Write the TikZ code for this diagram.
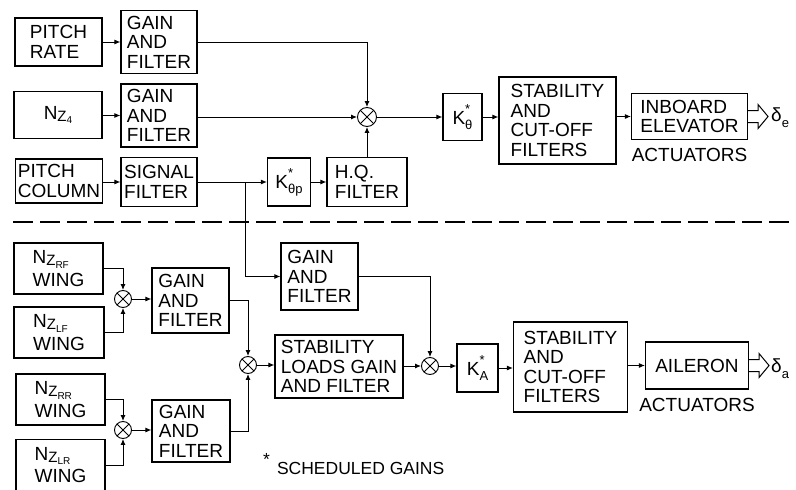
\documentclass[tikz,border=0pt]{standalone}
\usepackage{fontspec}
\setmainfont{Liberation Sans}
\usetikzlibrary{arrows.meta,positioning}

\newcommand{\nzlabel}[1]{N\raisebox{-0.2ex}{\fontsize{15}{15}\selectfont Z\raisebox{-0.3ex}{\fontsize{10}{10}\selectfont #1}}}
\newcommand{\kgain}[1]{K\rlap{\raisebox{1.1ex}{\fontsize{13}{13}\selectfont *}}\raisebox{-0.5ex}{\fontsize{13}{13}\selectfont #1}}
\newcommand{\outarrow}[1]{\draw[line width=1pt] (#1.east) ++(0,-6) -- ++(10,0) -- ++(0,-6) -- ++(10,12) -- ++(-10,12) -- ++(0,-6) -- ++(-10,0);}

\tikzset{
    blk/.style={draw, line width=1.1pt, inner sep=2pt, align=left, font=\fontsize{19}{19.5}\selectfont},
    sumj/.style={draw, circle, line width=0.9pt, minimum size=17pt, inner sep=0pt,
        path picture={\draw[line width=0.9pt] (path picture bounding box.north west) -- (path picture bounding box.south east)
            (path picture bounding box.north east) -- (path picture bounding box.south west);}},
    sig/.style={line width=1pt, -{Latex[length=6pt,width=5pt]}},
    lbl/.style={font=\fontsize{19}{19.5}\selectfont, inner sep=0pt},
}

\begin{document}
\begin{tikzpicture}[x=1pt, y=-1pt]
    \useasboundingbox (0,0) rectangle (796,490);

    \node[blk, minimum width=87, minimum height=48] (prate) at (58.5,42) {PITCH\\RATE};
    \node[blk, minimum width=76, minimum height=63] (gf1) at (159,42) {GAIN\\AND\\FILTER};
    \node[blk, minimum width=88, minimum height=47] (nz4) at (58,115) {\nzlabel{4}};
    \node[blk, minimum width=76, minimum height=63] (gf2) at (159,115.5) {GAIN\\AND\\FILTER};
    \node[blk, minimum width=86, minimum height=44] (pcol) at (59,181) {PITCH\\COLUMN};
    \node[blk, minimum width=76, minimum height=49] (sfilt) at (159,182) {SIGNAL\\FILTER};
    \node[sumj, minimum size=19pt] (sum1) at (367,117) {};
    \node[blk, minimum width=43, minimum height=48] (kthp) at (289,182) {\kgain{θp}};
    \node[blk, minimum width=80, minimum height=49] (hq) at (367,182) {H.Q.\\FILTER};
    \node[blk, minimum width=39, minimum height=47] (kth) at (462.5,117) {\kgain{θ}};
    \node[blk, minimum width=117, minimum height=87] (stab1) at (557.5,120.5) {STABILITY\\AND\\CUT-OFF\\FILTERS};
    \node[blk, minimum width=116, minimum height=46] (inb) at (689.5,116.5) {INBOARD\\ELEVATOR};
    \node[lbl, below=8pt of inb] (act1) {ACTUATORS};
    \node[lbl, anchor=west] (de) at (771,118) {δ\raisebox{-0.6ex}{\fontsize{13}{13}\selectfont e}};

    \draw[sig] (prate) -- (gf1);
    \draw[sig] (nz4.east |- gf2) -- (gf2);
    \draw[sig] (pcol.east |- sfilt) -- (sfilt);
    \draw[sig] (gf1.east) -| (sum1.north);
    \draw[sig] (gf2.east |- sum1) -- (sum1);
    \draw[sig] (sfilt) -- (kthp);
    \draw[sig] (kthp) -- (hq);
    \draw[sig] (hq.north) -- (sum1.south);
    \draw[sig] (sum1) -- (kth);
    \draw[sig] (kth) -- (kth -| stab1.west);
    \draw[sig] (stab1.east |- inb) -- (inb);
    \outarrow{inb}

    \coordinate (dl) at (13,222);
    \coordinate (dr) at (796,222);
    \draw[line width=2.5pt, dash pattern=on 20pt off 7pt] (dl) -- (dr);

    \node[blk, minimum width=89, minimum height=51] (nzrf) at (58.5,268.5) {\nzlabel{RF}\\[3pt]WING};
    \node[blk, minimum width=90, minimum height=51] (nzlf) at (59,332.5) {\nzlabel{LF}\\[3pt]WING};
    \node[blk, minimum width=89, minimum height=51] (nzrr) at (60.5,399.5) {\nzlabel{RR}\\[3pt]WING};
    \node[blk, minimum width=89, minimum height=51] (nzlr) at (60.5,465) {\nzlabel{LR}\\[3pt]WING};
    \node[sumj] (sum2) at (123,299) {};
    \node[sumj] (sum3) at (123,430) {};
    \node[blk, minimum width=77, minimum height=65] (gfa) at (190.5,300.5) {GAIN\\AND\\FILTER};
    \node[blk, minimum width=78, minimum height=62] (gfb) at (191,431) {GAIN\\AND\\FILTER};
    \node[sumj] (sum4) at (248,365) {};
    \node[blk, minimum width=128, minimum height=63] (slg) at (339,366.5) {STABILITY\\LOADS GAIN\\AND FILTER};
    \node[blk, minimum width=77, minimum height=67] (gfm) at (319.5,276.5) {GAIN\\AND\\FILTER};
    \node[sumj] (sum5) at (430,366) {};
    \node[blk, minimum width=41, minimum height=48] (ka) at (477.5,368) {\kgain{A}};
    \node[blk, minimum width=114, minimum height=90] (stab2) at (570.5,367) {STABILITY\\AND\\CUT-OFF\\FILTERS};
    \node[blk, minimum width=103, minimum height=47] (ail) at (697,365.5) {AILERON};
    \node[lbl, below=8pt of ail] (act2) {ACTUATORS};
    \node[lbl, anchor=west] (da) at (771,369) {δ\raisebox{-0.6ex}{\fontsize{13}{13}\selectfont a}};
    \node[lbl, anchor=west, font=\fontsize{17.5}{19}\selectfont] (note) at (263,464) {\raisebox{0.9ex}{*}\hspace{7pt}SCHEDULED GAINS};

    \coordinate (br) at (245,182);
    \draw[sig] (br) |- (gfm);
    \draw[sig] (nzrf.east) -| (sum2.north);
    \draw[sig] (nzlf.east) -| (sum2.south);
    \draw[sig] (sum2) -- (sum2 -| gfa.west);
    \draw[sig] (nzrr.east) -| (sum3.north);
    \draw[sig] (nzlr.east) -| (sum3.south);
    \draw[sig] (sum3) -- (sum3 -| gfb.west);
    \draw[sig] (gfa.east) -| (sum4.north);
    \draw[sig] (gfb.east) -| (sum4.south);
    \draw[sig] (sum4) -- (sum4 -| slg.west);
    \draw[sig] (slg.east |- sum5) -- (sum5);
    \draw[sig] (gfm.east) -| (sum5.north);
    \draw[sig] (sum5) -- (sum5 -| ka.west);
    \draw[sig] (ka) -- (ka -| stab2.west);
    \draw[sig] (stab2.east |- ail) -- (ail);
    \outarrow{ail}
\end{tikzpicture}
\end{document}
